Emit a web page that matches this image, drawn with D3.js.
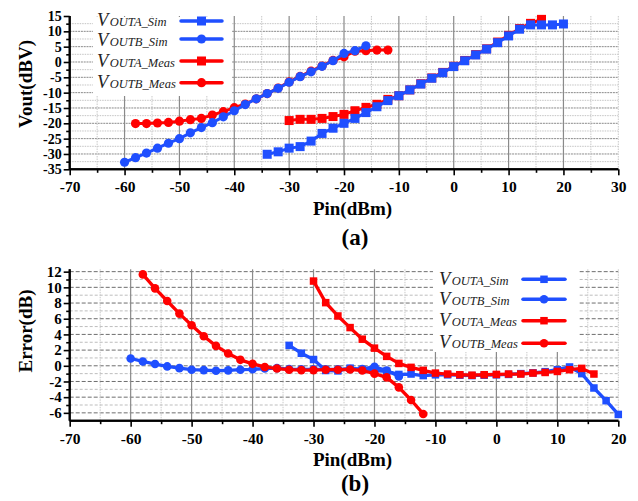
<!DOCTYPE html>
<html><head><meta charset="utf-8">
<script src="https://cdn.jsdelivr.net/npm/d3@7/dist/d3.min.js"></script>
<style>
body{margin:0;background:#fff;}
svg{display:block;font-family:"Liberation Serif","Times New Roman",serif;}
</style></head>
<body><svg id="c" width="638" height="501"></svg>
<script>
// ---------- DATA ----------
const seriesNames = ["OUTA_Sim","OUTB_Sim","OUTA_Meas","OUTB_Meas"];

// Panel (a): Vout (dBV) vs Pin (dBm)
const pinASimA  = [-34,-32,-30,-28,-26,-24,-22,-20,-18,-16,-14,-12,-10,-8,-6,-4,-2,0,2,4,6,8,10,12,14,16,18,20];
const voutASimA = [-30.1,-29.3,-28.1,-27.6,-25.8,-23.3,-21.6,-20.0,-18.4,-16.5,-14.6,-12.6,-11.0,-9.1,-7.2,-5.3,-3.5,-1.5,0.4,2.3,4.2,6.3,8.5,10.7,12.1,12.1,12.1,12.4];
const pinBSimA  = [-60,-58,-56,-54,-52,-50,-48,-46,-44,-42,-40,-38,-36,-34,-32,-30,-28,-26,-24,-22,-20,-18,-16];
const voutBSimA = [-32.7,-31.2,-29.7,-28.1,-26.5,-25.0,-23.1,-21.4,-19.8,-17.9,-15.9,-13.9,-12.0,-10.3,-8.6,-6.6,-4.8,-3.2,-1.4,0.4,2.8,3.7,5.3];
const pinAMeasA  = [-30,-28,-26,-24,-22,-20,-18,-16,-14,-12,-10,-8,-6,-4,-2,0,2,4,6,8,10,12,14,16];
const voutAMeasA = [-19.1,-18.7,-18.7,-18.4,-17.8,-17.1,-15.9,-14.8,-13.8,-12.2,-11.0,-9.1,-7.1,-5.2,-3.4,-1.4,0.5,2.4,4.3,6.5,8.7,10.9,12.6,13.9];
const pinBMeasA  = [-58,-56,-54,-52,-50,-48,-46,-44,-42,-40,-38,-36,-34,-32,-30,-28,-26,-24,-22,-20,-18,-16,-14,-12];
const voutBMeasA = [-20.1,-20.1,-19.9,-19.7,-19.3,-18.8,-18.4,-17.3,-16.2,-14.9,-13.7,-12.0,-10.3,-8.5,-6.5,-4.7,-3.0,-1.3,0.5,1.7,3.5,3.7,3.9,3.9];

// Panel (b): Error (dB) vs Pin (dBm)
const pinASimB  = [-34,-32,-30,-28,-26,-24,-22,-20,-18,-16,-14,-12,-10,-8,-6,-4,-2,0,2,4,6,8,10,12,14,16,18,20];
const errASimB  = [2.6,1.6,0.8,-0.6,-0.65,-0.3,-0.5,-0.6,-0.7,-1.1,-1.05,-1.25,-1.15,-1.15,-1.2,-1.25,-1.2,-1.15,-1.1,-1.0,-0.9,-0.75,-0.5,-0.15,-1.0,-2.83,-4.45,-6.2];
const pinBSimB  = [-60,-58,-56,-54,-52,-50,-48,-46,-44,-42,-40,-38,-36,-34,-32,-30,-28,-26,-24,-22,-20,-18,-16];
const errBSimB  = [0.93,0.55,0.22,-0.08,-0.3,-0.5,-0.55,-0.63,-0.58,-0.5,-0.45,-0.35,-0.3,-0.42,-0.45,-0.45,-0.45,-0.45,-0.4,-0.42,-0.12,-0.6,-1.35];
const pinAMeasB = [-30,-28,-26,-24,-22,-20,-18,-16,-14,-12,-10,-8,-6,-4,-2,0,2,4,6,8,10,12,14,16];
const errAMeasB = [10.8,8.05,6.35,4.87,3.39,2.25,1.2,0.3,-0.2,-0.58,-0.93,-1.05,-1.14,-1.2,-1.14,-1.1,-1.05,-1.05,-0.93,-0.85,-0.72,-0.5,-0.33,-1.05];
const pinBMeasB = [-58,-56,-54,-52,-50,-48,-46,-44,-42,-40,-38,-36,-34,-32,-30,-28,-26,-24,-22,-20,-18,-16,-14,-12];
const errBMeasB = [11.65,9.87,8.26,6.65,5.17,3.77,2.54,1.57,0.76,0.25,-0.15,-0.35,-0.5,-0.55,-0.55,-0.5,-0.5,-0.47,-0.6,-1.0,-1.48,-2.75,-4.36,-6.14];

// tick labels
const xTicksA = [-70,-60,-50,-40,-30,-20,-10,0,10,20,30];
const yTicksA = [15,10,5,0,-5,-10,-15,-20,-25,-30,-35];
const xTicksB = [-70,-60,-50,-40,-30,-20,-10,0,10,20];
const yTicksB = [12,10,8,6,4,2,0,-2,-4,-6];

// ---------- DRAW ----------
const BLUE = "#1f4fff", RED = "#ff0000";
const svg = d3.select("#c");

function zip(xs, ys){ return xs.map((x,i)=>({x:x, y:ys[i]})); }

function drawPanel(o){
  const g = svg.append("g");
  const x = d3.scaleLinear().domain(o.xDom).range([69.7, 618.3]);
  const y = d3.scaleLinear().domain(o.yDom).range(o.yRange);
  const top = y(o.yDom[1]), bot = y(o.yDom[0]);

  // grid
  const grid = g.append("g");
  o.hMinor.forEach(v=>grid.append("line").attr("x1",x(o.xDom[0])).attr("x2",x(o.xDom[1]))
     .attr("y1",y(v)).attr("y2",y(v)).attr("stroke",o.hMinorColor).attr("stroke-width",1).attr("stroke-dasharray",o.hMinorDash));
  o.hMajor.forEach(v=>grid.append("line").attr("x1",x(o.xDom[0])).attr("x2",x(o.xDom[1]))
     .attr("y1",y(v)).attr("y2",y(v)).attr("stroke",o.hMajorColor).attr("stroke-width",1).attr("stroke-dasharray",o.hMajorDash));
  o.vMinor.forEach(v=>grid.append("line").attr("x1",x(v)).attr("x2",x(v))
     .attr("y1",top).attr("y2",bot).attr("stroke","#c8c8c8").attr("stroke-width",1).attr("stroke-dasharray","1.5,1"));
  o.vMajor.forEach(v=>grid.append("line").attr("x1",x(v)).attr("x2",x(v))
     .attr("y1",top).attr("y2",bot).attr("stroke","#8a8a8a").attr("stroke-width",1.2));

  // legend background
  g.append("rect").attr("x",o.leg.x0).attr("y",o.leg.y0).attr("width",o.leg.x1-o.leg.x0)
   .attr("height",o.leg.y1-o.leg.y0).attr("fill","#fff");

  // series
  const line = d3.line().x(d=>x(d.x)).y(d=>y(d.y));
  o.series.forEach(s=>{
    const data = zip(s.xs, s.ys);
    g.append("path").datum(data).attr("d",line).attr("fill","none")
      .attr("stroke",s.color).attr("stroke-width",o.lw).attr("stroke-linejoin","round");
    if(s.shape==="square"){
      g.selectAll(null).data(data).enter().append("rect")
        .attr("x",d=>x(d.x)-o.sq/2).attr("y",d=>y(d.y)-o.sq/2)
        .attr("width",o.sq).attr("height",o.sq).attr("fill",s.color);
    } else {
      g.selectAll(null).data(data).enter().append("circle")
        .attr("cx",d=>x(d.x)).attr("cy",d=>y(d.y)).attr("r",o.cr).attr("fill",s.color);
    }
  });

  // axes
  const xMinor = d3.axisBottom(x).tickValues(o.xMinorTicks).tickSize(3.5).tickFormat("");
  const xMajor = d3.axisBottom(x).tickValues(o.xTicks).tickSize(6).tickPadding(6).tickFormat(d=>d);
  const yMinor = d3.axisLeft(y).tickValues(o.yMinorTicks).tickSize(3.5).tickFormat("");
  const yMajor = d3.axisLeft(y).tickValues(o.yTicks).tickSize(6).tickPadding(2).tickFormat(d=>d);
  [xMinor,xMajor].forEach(a=>{
    const ag = g.append("g").attr("transform",`translate(0,${bot})`).call(a);
    ag.select(".domain").attr("stroke","#000").attr("stroke-width",2).attr("d",`M${x(o.xDom[0])},0H${x(o.xDom[1])}`);
    ag.selectAll(".tick line").attr("stroke","#000").attr("stroke-width",1.6);
    ag.selectAll(".tick text").attr("font-family","Liberation Serif").attr("font-weight","bold")
      .attr("font-size",15.5).attr("fill","#000");
  });
  [yMinor,yMajor].forEach(a=>{
    const ag = g.append("g").attr("transform",`translate(${x(o.xDom[0])},0)`).call(a);
    ag.select(".domain").attr("stroke","#000").attr("stroke-width",2).attr("d",`M0,${top}V${bot}`);
    ag.selectAll(".tick line").attr("stroke","#000").attr("stroke-width",1.6);
    ag.selectAll(".tick text").attr("font-family","Liberation Serif").attr("font-weight","bold")
      .attr("font-size",o.yFont).attr("fill","#000");
  });

  // titles
  g.append("text").attr("x",352.5).attr("y",o.xTitleY).attr("text-anchor","middle")
    .attr("font-weight","bold").attr("font-size",19).text("Pin(dBm)");
  g.append("text").attr("x",355).attr("y",o.capY).attr("text-anchor","middle")
    .attr("font-weight","bold").attr("font-size",23).text(o.caption);
  g.append("text").attr("transform",`translate(32,${o.yTitleCY}) rotate(-90)`).attr("text-anchor","middle")
    .attr("font-weight","bold").attr("font-size",19).text(o.yTitle);

  // legend entries
  o.series.slice().sort((a,b)=>a.order-b.order).forEach((s,i)=>{
    const t = g.append("text").attr("x",o.leg.tx).attr("y",o.leg.ty[i]).attr("font-style","italic").attr("fill","#222");
    t.append("tspan").attr("font-size",18.5).text("V");
    t.append("tspan").attr("font-size",12.5).attr("dx",1.5).text(s.name);
    const ly = o.leg.ly[i];
    g.append("line").attr("x1",o.leg.lx0).attr("x2",o.leg.lx1).attr("y1",ly).attr("y2",ly)
      .attr("stroke",s.color).attr("stroke-width",3.5).attr("stroke-linecap","round");
    const cx = (o.leg.lx0+o.leg.lx1)/2;
    if(s.shape==="square") g.append("rect").attr("x",cx-o.sq/2).attr("y",ly-o.sq/2).attr("width",o.sq).attr("height",o.sq).attr("fill",s.color);
    else g.append("circle").attr("cx",cx).attr("cy",ly).attr("r",o.cr).attr("fill",s.color);
  });
}

// Panel (a)
drawPanel({
  xDom:[-70,30], yDom:[-35,15], yRange:[169.3,16],
  xTicks:xTicksA, yTicks:yTicksA, yFont:14,
  xMinorTicks:[-65,-55,-45,-35,-25,-15,-5,5,15,25],
  yMinorTicks:[12.5,7.5,2.5,-2.5,-7.5,-12.5,-17.5,-22.5,-27.5,-32.5],
  hMajor:[10,5,0,-5,-10,-15,-20,-25,-30], hMajorColor:"#8a8a8a", hMajorDash:"2,0.8",
  hMinor:[12.5,7.5,2.5,-2.5,-7.5,-12.5,-17.5,-22.5,-27.5,-32.5], hMinorColor:"#c4c4c4", hMinorDash:"1.5,1",
  vMajor:[-60,-50,-40,-30,-20,-10,0,10,20], vMinor:[-65,-55,-45,-35,-25,-15,-5,5,15,25,30],
  lw:3, sq:9, cr:4.6,
  series:[
    {name:seriesNames[2], xs:pinAMeasA, ys:voutAMeasA, color:RED, shape:"square", order:2},
    {name:seriesNames[3], xs:pinBMeasA, ys:voutBMeasA, color:RED, shape:"circle", order:3},
    {name:seriesNames[0], xs:pinASimA, ys:voutASimA, color:BLUE, shape:"square", order:0},
    {name:seriesNames[1], xs:pinBSimA, ys:voutBSimA, color:BLUE, shape:"circle", order:1}
  ],
  leg:{x0:93,x1:232,y0:17,y1:96, tx:97, ty:[25.5,46,66.5,88], lx0:181, lx1:222, ly:[21,39,61,82.7]},
  xTitleY:215, capY:245, caption:"(a)", yTitle:"Vout(dBV)", yTitleCY:84
});

// Panel (b)
drawPanel({
  xDom:[-70,20], yDom:[-7,12.3], yRange:[420.7,269.3],
  xTicks:xTicksB, yTicks:yTicksB, yFont:15,
  xMinorTicks:[-65,-55,-45,-35,-25,-15,-5,5,15],
  yMinorTicks:[11,9,7,5,3,1,-1,-3,-5],
  hMajor:[12,10,8,6,4,2,0,-2,-4,-6], hMajorColor:"#6e6e6e", hMajorDash:"4,2",
  hMinor:[11,9,7,5,3,1,-1,-3,-5], hMinorColor:"#bdbdbd", hMinorDash:"3,2",
  vMajor:[-60,-50,-40,-30,-20,-10,0,10], vMinor:[-65,-55,-45,-35,-25,-15,-5,5,15,20],
  lw:3.3, sq:7.5, cr:4.3,
  series:[
    {name:seriesNames[0], xs:pinASimB, ys:errASimB, color:BLUE, shape:"square", order:0},
    {name:seriesNames[1], xs:pinBSimB, ys:errBSimB, color:BLUE, shape:"circle", order:1},
    {name:seriesNames[2], xs:pinAMeasB, ys:errAMeasB, color:RED, shape:"square", order:2},
    {name:seriesNames[3], xs:pinBMeasB, ys:errBMeasB, color:RED, shape:"circle", order:3}
  ],
  leg:{x0:433,x1:578,y0:268,y1:352, tx:439, ty:[284.5,305,325.5,348], lx0:523, lx1:565, ly:[279.3,299.3,320.7,343.3]},
  xTitleY:466, capY:491, caption:"(b)", yTitle:"Error(dB)", yTitleCY:331
});
</script></body></html>
